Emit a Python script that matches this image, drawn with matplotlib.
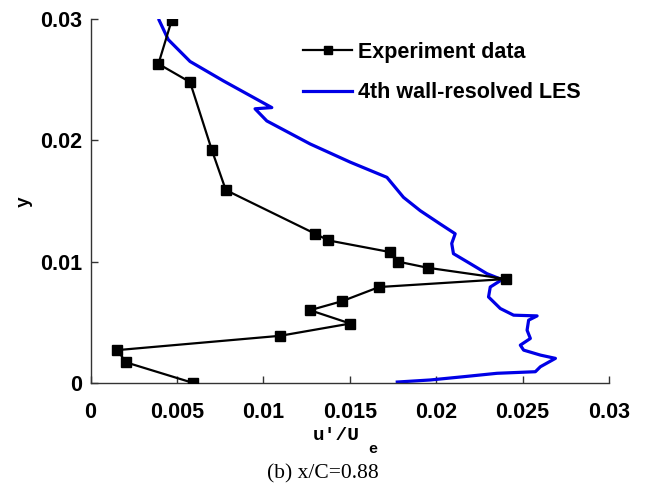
import matplotlib
matplotlib.use("Agg")
import matplotlib.pyplot as plt

# Experiment data
exp_x = [0.00470, 0.00393, 0.00576, 0.00702, 0.00783, 0.0130, 0.01377, 0.0173, 0.0178,
         0.0195, 0.02406, 0.0167, 0.01455, 0.0127, 0.01503, 0.01097, 0.00155, 0.00206, 0.00595]
exp_y = [0.0299, 0.0263, 0.0248, 0.0192, 0.0159, 0.0123, 0.01175, 0.0108, 0.0100,
         0.0095, 0.00857, 0.00791, 0.00674, 0.0060, 0.0049, 0.00389, 0.00271, 0.00170, 0.0]

# 4th wall-resolved LES
les_x = [0.00397, 0.00450, 0.00576, 0.00769, 0.01049, 0.00952, 0.0102, 0.01271, 0.01503,
         0.01715, 0.01811, 0.01908, 0.02024, 0.0211, 0.0209, 0.0210, 0.02197, 0.02294,
         0.02381, 0.02313, 0.02303, 0.02371, 0.02448, 0.02584, 0.02535, 0.02526, 0.02545,
         0.02487, 0.02506, 0.02603, 0.0269, 0.02603, 0.02574, 0.02352, 0.02159, 0.01966, 0.01775]
les_y = [0.0299, 0.0283, 0.0265, 0.0249, 0.0227, 0.0226, 0.0216, 0.0197, 0.0182,
         0.01695, 0.0153, 0.0142, 0.0131, 0.0123, 0.0115, 0.01066, 0.00984, 0.00901,
         0.00852, 0.00791, 0.00709, 0.00614, 0.00559, 0.00553, 0.00518, 0.00435, 0.00367,
         0.00312, 0.00271, 0.00230, 0.00203, 0.00134, 0.00093, 0.00080, 0.00052, 0.00025, 0.00008]

xticks = [0, 0.005, 0.01, 0.015, 0.02, 0.025, 0.03]
xtick_labels = ["0", "0.005", "0.01", "0.015", "0.02", "0.025", "0.03"]
yticks = [0, 0.01, 0.02, 0.03]
ytick_labels = ["0", "0.01", "0.02", "0.03"]

plt.rcParams['font.family'] = ['Liberation Sans', 'DejaVu Sans']

W, H = 645, 491
fig = plt.figure(figsize=(W / 100, H / 100), dpi=100)
x0, x1, y0, y1 = 90.5, 609.0, 383.0, 19.0
ax = fig.add_axes([x0 / W, 1 - y0 / H, (x1 - x0) / W, (y0 - y1) / H])

ax.plot(exp_x, exp_y, color='black', lw=1.6, marker='s', markersize=7,
        label='Experiment data', zorder=3)
ax.plot(les_x, les_y, color='#0000e6', lw=2.3, label='4th wall-resolved LES', zorder=2)

ax.set_xlim(0, 0.03)
ax.set_ylim(0, 0.03)
ax.set_xticks(xticks)
ax.set_xticklabels(xtick_labels)
ax.set_yticks(yticks)
ax.set_yticklabels(ytick_labels)

for s in ['top', 'right']:
    ax.spines[s].set_visible(False)
for s in ['left', 'bottom']:
    ax.spines[s].set_color('#333333')
    ax.spines[s].set_linewidth(1.0)

ax.tick_params(direction='in', length=5, width=1, color='#333333', labelsize=15.5)
ax.tick_params(axis='x', pad=14)
ax.tick_params(axis='y', pad=6)
for lab in ax.get_xticklabels() + ax.get_yticklabels():
    lab.set_fontweight('bold')

# x label "u'/U" with subscript e
ax.set_xlabel("u'/U", family='Liberation Mono', fontweight='bold', fontsize=14,
              va='baseline', ha='center')
ax.xaxis.set_label_coords((336.5 - x0) / (x1 - x0), (y0 - 440) / (y0 - y1))
ax.text((373 - x0) / (x1 - x0), (y0 - 453) / (y0 - y1), "e", transform=ax.transAxes,
        family='Liberation Mono', fontweight='bold', fontsize=11,
        ha='center', va='baseline')

ax.set_ylabel("y", family='Liberation Mono', fontweight='bold', fontsize=13,
              va='center', ha='center')
ax.yaxis.set_label_coords((24 - x0) / (x1 - x0), (y0 - 201.5) / (y0 - y1))

leg = ax.legend(loc='upper left', bbox_to_anchor=(303 / W, 1 - 42 / H),
                bbox_transform=fig.transFigure, frameon=False,
                prop={'weight': 'bold', 'size': 15.5}, handlelength=2.28,
                handletextpad=0.28, labelspacing=0.9, borderpad=0,
                borderaxespad=0, markerscale=0.85)

fig.text(0.5, 1 - 474 / H, "(b) x/C=0.88", ha='center', va='center',
         family='Liberation Serif', fontsize=15.5)

fig.savefig('out.png', dpi=100, facecolor='white')
